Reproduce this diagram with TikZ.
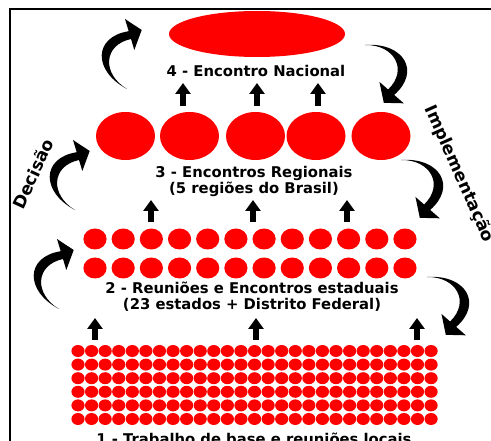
\documentclass[tikz,border=0pt]{standalone}
\usepackage{fontspec}
\setmainfont{DejaVu Sans}
\usetikzlibrary{arrows.meta}
\tikzset{
  lbl/.style={font=\bfseries\fontsize{14.8}{16}\selectfont, anchor=base, inner sep=0pt},
  side/.style={font=\bfseries\fontsize{17}{19}\selectfont, inner sep=0pt},
  uparrow/.style={line width=6pt, -{Triangle[width=15pt,length=11pt]}},
  dot/.style={fill=red},
  pics/crescent/.style={code={
    \fill[black] (0,0) .. controls (-34,-18) and (-34,-52) .. (1.7,-57.8)
      -- (-2,-70) -- (14.7,-59) -- (7.3,-39) -- (4,-50)
      .. controls (-24,-44) and (-25,-15) .. (0,0) -- cycle;
  }}
}
\begin{document}
\begin{tikzpicture}[x=1pt,y=-1pt]
\useasboundingbox (0,0) rectangle (491,441);
% frame
\draw[line width=2.5pt] (10,445) -- (10,9) -- (495,9);
% level 4
\fill[dot] (257,34) ellipse [x radius=88, y radius=23];
% level 3
\foreach \cx in {125.5,189.5,255.5,316,381}
  \fill[dot] (\cx,136) ellipse [x radius=29.5, y radius=24];
% level 2
\foreach \i in {0,...,11}
  \foreach \cy in {239,268}
    \fill[dot] ({95+\i*28.18},\cy) ellipse [x radius=11.6, y radius=10.5];
% level 1
\foreach \i in {0,...,26}
  \foreach \j in {0,...,5}
    \fill[dot] ({78+\i*13.58},{351+\j*13.6}) ellipse [x radius=6.6, y radius=6];
% labels
\node[lbl] (l4) at (256,77) {4 - Encontro Nacional};
\node[lbl] (l3a) at (254,177.7) {3 - Encontros Regionais};
\node[lbl] (l3b) at (254,193.3) {(5 regiões do Brasil)};
\node[lbl] (l2a) at (252,293.3) {2 - Reuniões e Encontros estaduais};
\node[lbl] (l2b) at (252,309.3) {(23 estados + Distrito Federal)};
\node[lbl] (l1) at (254,444.5) {1 - Trabalho de base e reuniões locais};
\node[side, rotate=65] (dec) at (33,174) {Decisão};
\node[side, rotate=-66] (impl) at (459,174) {Implementação};
% up arrows
\foreach \n/\ax/\ya/\yb in {a/183/106/83, b/257/106/83, c/318/106/83,
                            d/151/222/200, e/253/222/200, f/347/222/200,
                            g/95/340/318, h/256/340/318, k/417/340/318} {
  \coordinate (\n s) at (\ax,\ya);
  \coordinate (\n e) at (\ax,\yb);
  \draw[uparrow] (\n s) -- (\n e);
}
% curved arrows
\path (127,89) pic {crescent};
\path (75,210) pic {crescent};
\path (59,309) pic {crescent};
\path (365,45) pic[rotate=-148] {crescent};
\path (401,160) pic[rotate=-148] {crescent};
\path (427,277) pic[rotate=-148] {crescent};
\end{tikzpicture}
\end{document}
